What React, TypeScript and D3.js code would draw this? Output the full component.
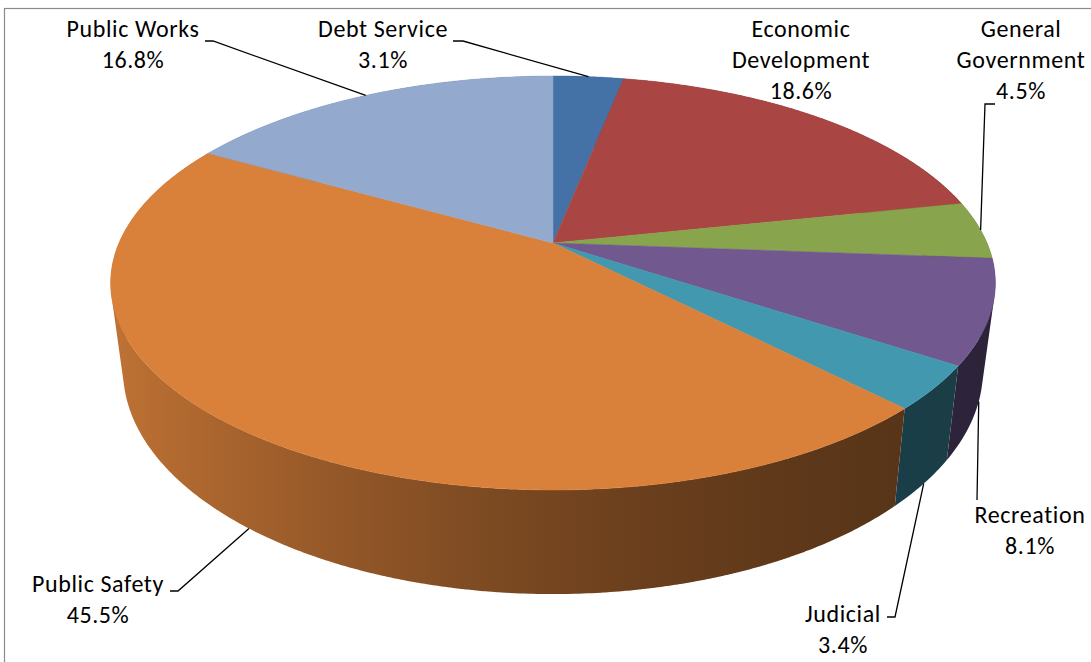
import React from "react";
import * as d3 from "d3";

// ---- data ----
const categories = [
  "Debt Service",
  "Economic Development",
  "General Government",
  "Recreation",
  "Judicial",
  "Public Safety",
  "Public Works",
];
const values = [3.1, 18.6, 4.5, 8.1, 3.4, 45.5, 16.8];
const labelLines = [
  ["Debt Service"],
  ["Economic", "Development"],
  ["General", "Government"],
  ["Recreation"],
  ["Judicial"],
  ["Public Safety"],
  ["Public Works"],
];
const topColors = ["#4471A6", "#A94643", "#88A44D", "#71588F", "#4198AF", "#D9813B", "#93A9CE"];

// ---- layout ----
const W = 1091;
const H = 662;
const CX = 553; // projected centre x
const CY = 243; // projected centre y
const PA = 152.3; // perspective vertical scale
const PC = -0.1932; // perspective factor
const RX = 434; // horizontal radius
const D0 = 84; // depth
const K = 0.972; // bottom shrink

// label layout: [cx, firstBaseline], hook [x1,y1,x2,y2] or null
const labelPos: [number, number][] = [
  [383, 37],
  [801, 37],
  [1021, 37],
  [1030, 523],
  [843, 622],
  [98, 592],
  [133, 37],
];
const hooks: ([number, number, number, number] | null)[] = [
  [453, 41, 463, 41],
  null,
  [995, 104, 985, 104],
  [977, 500, 977, 500],
  [887, 617, 895, 617],
  [170, 591, 178, 591],
  [205, 41, 213, 41],
];
const LINE_H = 31;

function proj(theta: number) {
  const xd = Math.sin(theta);
  const yd = -Math.cos(theta);
  const den = 1 + PC * yd;
  return { x: CX + (RX * xd) / den, y: (PA * yd + CY) / den, yd, den };
}
function projBottom(theta: number) {
  const p = proj(theta);
  return { x: CX + (p.x - CX) * K, y: p.y + D0 / p.den, yd: p.yd };
}

function shade(hex: string, f: number) {
  const c = d3.rgb(hex);
  return d3.rgb(c.r * f, c.g * f, c.b * f).formatHex();
}
function sideFactorU(u: number) {
  return 0.4 + 0.48 * Math.pow((1 - u) / 2, 1.8);
}
const gradStops = d3.range(0, 1.0001, 0.05);

export default function App() {
  const pie = d3
    .pie<number>()
    .sort(null)
    .value((d) => d)
    .startAngle(0)
    .endAngle(Math.PI * 2);
  const arcs = pie(values);
  const step = Math.PI / 360;

  const sides = arcs.map((a, i) => {
    const n = Math.max(2, Math.ceil((a.endAngle - a.startAngle) / step));
    const path = d3.path();
    for (let j = 0; j < n; j++) {
      const t0 = a.startAngle + ((a.endAngle - a.startAngle) * j) / n;
      const t1 = a.startAngle + ((a.endAngle - a.startAngle) * (j + 1.15)) / n;
      const p0 = proj(t0), p1 = proj(Math.min(t1, a.endAngle));
      const b0 = projBottom(t0), b1 = projBottom(Math.min(t1, a.endAngle));
      // consistent orientation: ensure positive signed area
      const pts = [p0, p1, b1, b0];
      let area = 0;
      for (let q = 0; q < 4; q++) {
        const u = pts[q], v = pts[(q + 1) % 4];
        area += u.x * v.y - v.x * u.y;
      }
      const ordered = area >= 0 ? pts : pts.slice().reverse();
      path.moveTo(ordered[0].x, ordered[0].y);
      for (let q = 1; q < 4; q++) path.lineTo(ordered[q].x, ordered[q].y);
      path.closePath();
    }
    const mid = proj((a.startAngle + a.endAngle) / 2);
    return { d: path.toString(), i, depth: mid.yd };
  });
  const sideOrder = sides.slice().sort((a, b) => a.depth - b.depth);

  const tops = arcs.map((a, i) => {
    const path = d3.path();
    path.moveTo(CX, CY);
    const n = Math.max(2, Math.ceil((a.endAngle - a.startAngle) / step));
    for (let j = 0; j <= n; j++) {
      const t = a.startAngle + ((a.endAngle - a.startAngle) * j) / n;
      const p = proj(t);
      path.lineTo(p.x, p.y);
    }
    path.closePath();
    return { d: path.toString(), fill: topColors[i] };
  });

  const anchors = arcs.map((a) => {
    const mid = (a.startAngle + a.endAngle) / 2;
    const p = proj(mid);
    if (p.yd > 0.2) return projBottom(mid);
    return p;
  });

  const font = "Carlito, Calibri, Lato, 'Open Sans', sans-serif";
  const gx1 = CX - RX * 1.02;
  const gx2 = CX + RX * 1.02;

  return (
    <svg
      width={W}
      height={H}
      style={{ position: "absolute", left: 0, top: 0, background: "#fff" }}
    >
      <defs>
        {topColors.map((c, i) => (
          <linearGradient
            key={i}
            id={"side" + i}
            gradientUnits="userSpaceOnUse"
            x1={gx1}
            y1={0}
            x2={gx2}
            y2={0}
          >
            {gradStops.map((s, j) => (
              <stop key={j} offset={s} stopColor={shade(c, sideFactorU(s * 2 - 1))} />
            ))}
          </linearGradient>
        ))}
      </defs>
      <rect x={4.5} y={8.5} width={W + 10} height={H + 10} fill="#fff" stroke="#8a8a8a" strokeWidth={1.2} />
      <g>
        {sideOrder.map((s) => (
          <path key={"s" + s.i} d={s.d} fill={`url(#side${s.i})`} fillRule="nonzero" />
        ))}
      </g>
      <g>
        {tops.map((t, k) => (
          <path key={"t" + k} d={t.d} fill={t.fill} stroke={t.fill} strokeWidth={0.5} />
        ))}
      </g>
      <g fill="none" stroke="#000" strokeWidth={1.3}>
        {hooks.map((h, i) => {
          if (!h) return null;
          const an = anchors[i];
          const line = d3.line();
          return (
            <path
              key={"l" + i}
              d={line([
                [h[0], h[1]],
                [h[2], h[3]],
                [an.x, an.y],
              ]) as string}
            />
          );
        })}
      </g>
      <g fontFamily={font} fontSize={24} letterSpacing={0.6} fill="#000" textAnchor="middle">
        {categories.map((c, i) => {
          const [lx, ly] = labelPos[i];
          const lines = [...labelLines[i], values[i].toFixed(1) + "%"];
          return (
            <text key={c} x={lx} y={ly}>
              {lines.map((t, j) => (
                <tspan key={j} x={lx} y={ly + j * LINE_H}>
                  {t}
                </tspan>
              ))}
            </text>
          );
        })}
      </g>
    </svg>
  );
}
